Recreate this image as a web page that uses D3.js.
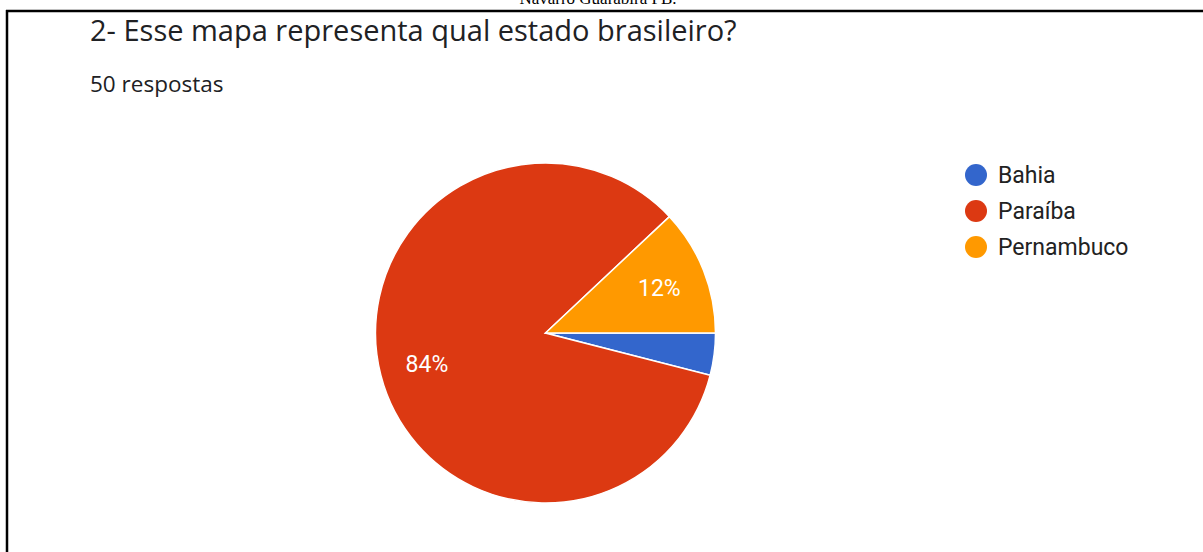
<!DOCTYPE html>
<html>
<head>
<meta charset="utf-8">
<script src="https://cdn.jsdelivr.net/npm/d3@7"></script>
<style>
  html, body { margin: 0; padding: 0; background: #fff; }
  svg { display: block; }
</style>
</head>
<body>
<svg id="chart" width="1203" height="552"></svg>
<script>
// Survey answers (counts out of 50 responses)
const categories = ["Bahia", "Paraíba", "Pernambuco"];
const counts = [2, 42, 6];
const colors = ["#3366cc", "#dc3912", "#ff9900"];

const titleText = "2- Esse mapa representa qual estado brasileiro?";
const subtitleText = "50 respostas";
const captionText = "Navarro Guarabira PB.";

const svg = d3.select("#chart");
const W = 1203, H = 552;

// caption from the document above, clipped by the page edge
svg.append("text")
  .attr("x", 598).attr("y", 4)
  .attr("text-anchor", "middle")
  .attr("font-family", "Liberation Serif, Times New Roman, serif")
  .attr("font-size", 17)
  .attr("fill", "#000")
  .text(captionText);

// frame lines (top and left)
svg.append("line").attr("x1", 6).attr("x2", W).attr("y1", 11).attr("y2", 11)
  .attr("stroke", "#000").attr("stroke-width", 2.5);
svg.append("line").attr("x1", 7).attr("x2", 7).attr("y1", 10).attr("y2", H)
  .attr("stroke", "#000").attr("stroke-width", 2.5);

// header
svg.append("text")
  .attr("x", 90).attr("y", 41)
  .attr("font-family", "Open Sans, Roboto, Arial, sans-serif")
  .attr("font-size", 29)
  .attr("fill", "#202124")
  .text(titleText);

svg.append("text")
  .attr("x", 90).attr("y", 92)
  .attr("font-family", "Open Sans, Roboto, Arial, sans-serif")
  .attr("font-size", 22.5)
  .attr("fill", "#202124")
  .text(subtitleText);

// pie
const cx = 545.5, cy = 333, r = 170;
const total = d3.sum(counts);
const data = categories.map((c, i) => ({ name: c, value: counts[i], color: colors[i] }));

const pie = d3.pie()
  .value(d => d.value)
  .sort(null)
  .startAngle(Math.PI / 2)
  .endAngle(Math.PI / 2 + 2 * Math.PI);

const arc = d3.arc().innerRadius(0).outerRadius(r);
const labelArc = d3.arc().innerRadius(r * 0.72).outerRadius(r * 0.72);

const g = svg.append("g").attr("transform", `translate(${cx},${cy})`);
const arcs = pie(data);

g.selectAll("path.slice")
  .data(arcs)
  .join("path")
  .attr("class", "slice")
  .attr("d", arc)
  .attr("fill", d => d.data.color)
  .attr("stroke", "#fff")
  .attr("stroke-width", 1.5);

// percentage labels (only where the slice is large enough)
g.selectAll("text.pct")
  .data(arcs.filter(d => d.data.value / total >= 0.05))
  .join("text")
  .attr("class", "pct")
  .attr("transform", d => `translate(${labelArc.centroid(d)})`)
  .attr("text-anchor", "middle")
  .attr("dy", "0.36em")
  .attr("font-family", "Roboto, Arial, sans-serif")
  .attr("font-size", 23)
  .attr("fill", "#fff")
  .text(d => Math.round(d.data.value / total * 100) + "%");

// legend
const legend = svg.append("g").attr("transform", "translate(976,175)");
const rows = legend.selectAll("g.row")
  .data(data)
  .join("g")
  .attr("class", "row")
  .attr("transform", (d, i) => `translate(0,${i * 36})`);

rows.append("circle").attr("r", 11).attr("fill", d => d.color);
rows.append("text")
  .attr("x", 22).attr("dy", "0.36em")
  .attr("font-family", "Roboto, Arial, sans-serif")
  .attr("font-size", 23)
  .attr("fill", "#222")
  .text(d => d.name);
</script>
</body>
</html>
